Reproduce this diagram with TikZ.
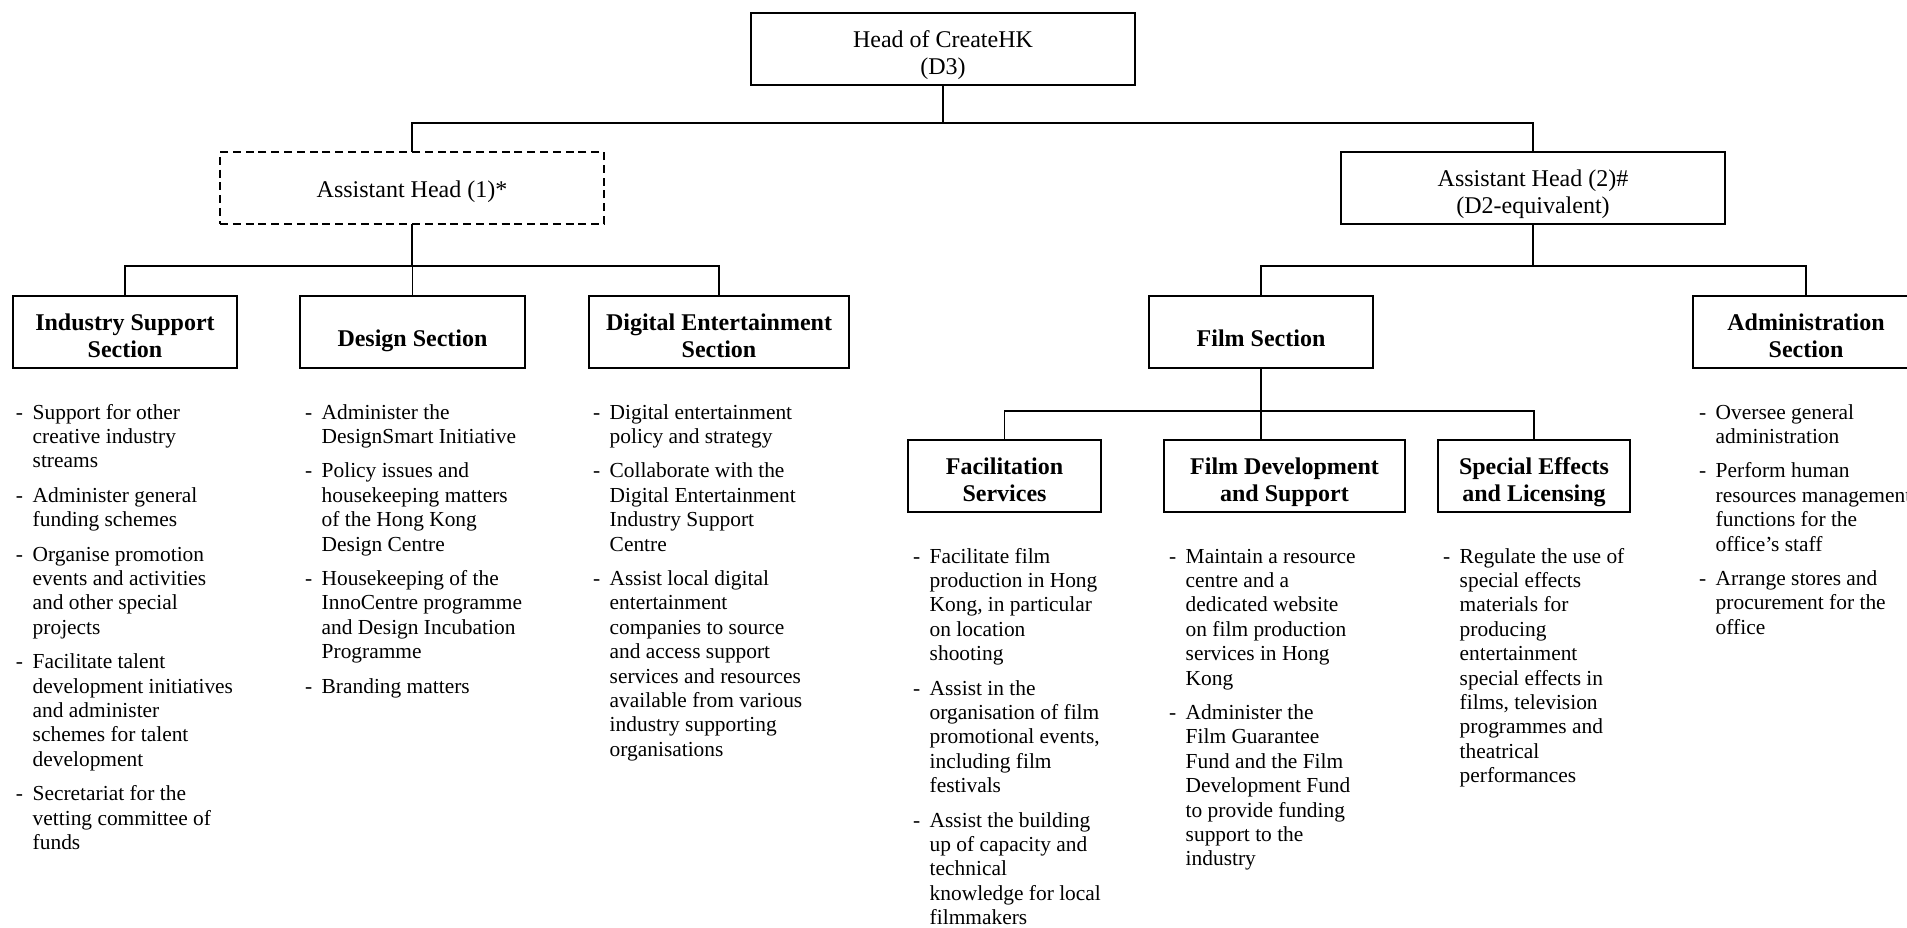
\documentclass[tikz,border=0pt]{standalone}
\usepackage{fontspec}
\setmainfont{Liberation Serif}
\usepackage{tikz}
\tikzstyle{edge}=[line width=0.75pt]
\tikzstyle{box}=[draw, line width=0.9pt, fill=white,
                 minimum height=36pt, align=center,
                 inner sep=0pt, outer sep=0pt,
                 text height=25pt, text depth=0pt,
                 font=\fontsize{12}{13.5}\selectfont]
\tikzstyle{oneline}=[text height=9pt]
\tikzstyle{section}=[box, font=\fontsize{12}{13.5}\selectfont\bfseries]
\tikzstyle{duties}=[inner sep=0pt, outer sep=0pt, anchor=base west,
                    font=\fontsize{10.7}{12.2}\selectfont]
\newcommand{\dutylist}[1]{\begin{tabular}[t]{@{}l@{\hspace{4.8pt}}l@{}}#1\end{tabular}}
\newcommand{\gap}{\\[5pt]}

\begin{document}
\begin{tikzpicture}[x=0.5pt, y=-0.5pt]
   \useasboundingbox (0,0) rectangle (1907,927);
   \clip (0,0) rectangle (1907,927);

   \node (head) at (943,49) [box, minimum width=192pt] {Head of CreateHK\\(D3)};
   \node (ahone) at (412,188) [box, oneline, minimum width=192pt, dash pattern=on 4pt off 2.4pt]
        {Assistant Head (1)*};
   \node (ahtwo) at (1533,188) [box, minimum width=192pt]
        {Assistant Head (2)\#\\(D2-equivalent)};

   \node (indsec)   at (125,332)    [section, minimum width=112pt] {Industry Support\\Section};
   \node (dessec)   at (412.5,332)  [section, text height=14.8pt, minimum width=112.5pt] {Design Section};
   \node (digsec)   at (719,332)    [section, minimum width=130pt] {Digital Entertainment\\Section};
   \node (filmsec)  at (1261,332)   [section, text height=14.8pt, minimum width=112pt] {Film Section};
   \node (adminsec) at (1806,332)   [section, minimum width=113pt] {Administration\\Section};

   \node (facil)   at (1004.5,476) [section, minimum width=96.5pt] {Facilitation\\Services};
   \node (filmdev) at (1284.5,476) [section, minimum width=120.5pt] {Film Development\\and Support};
   \node (sfx)     at (1534,476)   [section, minimum width=96pt] {Special Effects\\and Licensing};

   \draw [edge] (head.south) -- ++(0,38) -| (ahone.north);
   \draw [edge] (head.south) -- ++(0,38) -| (ahtwo.north);
   \foreach \v in {indsec,dessec,digsec}
     \draw [edge] (ahone.south) -- ++(0,42) -| (\v.north);
   \foreach \v in {filmsec,adminsec}
     \draw [edge] (ahtwo.south) -- ++(0,42) -| (\v.north);
   \foreach \v in {facil,sfx}
     \draw [edge] (filmsec.south) -- ++(0,43) -| (\v.north);
   \draw [edge] (filmsec.south) -- (filmsec.south |- filmdev.north);

   \node (inddut) at (16,419) [duties] {\dutylist{
     - & Support for other\\ & creative industry\\ & streams\gap
     - & Administer general\\ & funding schemes\gap
     - & Organise promotion\\ & events and activities\\ & and other special\\ & projects\gap
     - & Facilitate talent\\ & development initiatives\\ & and administer\\ & schemes for talent\\ & development\gap
     - & Secretariat for the\\ & vetting committee of\\ & funds}};
   \node (desdut) at (305,419) [duties] {\dutylist{
     - & Administer the\\ & DesignSmart Initiative\gap
     - & Policy issues and\\ & housekeeping matters\\ & of the Hong Kong\\ & Design Centre\gap
     - & Housekeeping of the\\ & InnoCentre programme\\ & and Design Incubation\\ & Programme\gap
     - & Branding matters}};
   \node (digdut) at (593,419) [duties] {\dutylist{
     - & Digital entertainment\\ & policy and strategy\gap
     - & Collaborate with the\\ & Digital Entertainment\\ & Industry Support\\ & Centre\gap
     - & Assist local digital\\ & entertainment\\ & companies to source\\ & and access support\\ & services and resources\\ & available from various\\ & industry supporting\\ & organisations}};
   \node (admdut) at (1699,419) [duties] {\dutylist{
     - & Oversee general\\ & administration\gap
     - & Perform human\\ & resources management\\ & functions for the\\ & office’s staff\gap
     - & Arrange stores and\\ & procurement for the\\ & office}};

   \node (facdut) at (913,563) [duties] {\dutylist{
     - & Facilitate film\\ & production in Hong\\ & Kong, in particular\\ & on location\\ & shooting\gap
     - & Assist in the\\ & organisation of film\\ & promotional events,\\ & including film\\ & festivals\gap
     - & Assist the building\\ & up of capacity and\\ & technical\\ & knowledge for local\\ & filmmakers}};
   \node (devdut) at (1169,563) [duties] {\dutylist{
     - & Maintain a resource\\ & centre and a\\ & dedicated website\\ & on film production\\ & services in Hong\\ & Kong\gap
     - & Administer the\\ & Film Guarantee\\ & Fund and the Film\\ & Development Fund\\ & to provide funding\\ & support to the\\ & industry}};
   \node (sfxdut) at (1443,563) [duties] {\dutylist{
     - & Regulate the use of\\ & special effects\\ & materials for\\ & producing\\ & entertainment\\ & special effects in\\ & films, television\\ & programmes and\\ & theatrical\\ & performances}};
\end{tikzpicture}
\end{document}
